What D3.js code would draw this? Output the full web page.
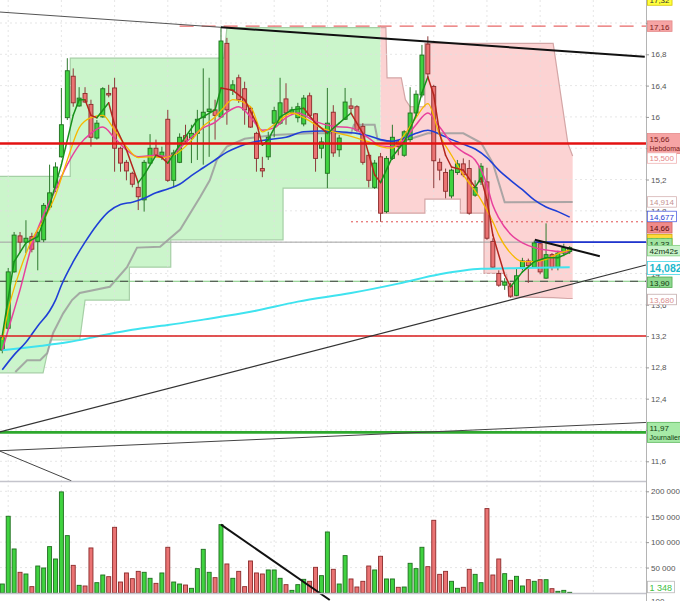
<!DOCTYPE html>
<html>
<head>
<meta charset="utf-8">
<script src="https://cdn.jsdelivr.net/npm/d3@7"></script>
<style>
  html, body { margin: 0; padding: 0; background: #fff; overflow: hidden; }
  svg { display: block; font-family: "Liberation Sans", Arial, sans-serif; }
</style>
</head>
<body>
<div id="chart"></div>
<script>
// ---- candles (one per session)
const opens = [13.02,13.30,14.02,14.48,14.40,14.47,14.41,14.43,14.85,15.10,
  15.49,15.99,16.52,16.14,16.30,16.16,15.73,16.00,16.30,16.37,
  15.60,15.42,15.28,15.10,14.94,15.41,15.60,15.49,15.97,15.19,
  15.42,15.76,15.73,15.79,15.99,16.07,16.09,16.00,16.94,16.34,
  16.50,16.36,16.11,15.79,15.34,15.49,15.92,15.92,16.23,16.06,
  15.99,15.91,16.27,16.04,15.60,15.28,16.06,15.58,15.97,16.14,
  16.13,15.88,15.51,15.10,15.49,14.79,15.47,15.68,15.51,15.71,
  16.05,16.28,16.93,16.39,15.42,15.29,14.99,15.29,15.40,15.34,
  15.00,15.17,15.17,14.41,14.00,13.85,13.84,13.72,14.08,14.16,
  14.08,14.38,13.94,14.24,14.08,14.26,14.28];
const highs = [13.20,14.07,14.53,14.53,14.68,14.52,14.55,14.90,15.39,15.42,
  16.37,16.75,16.62,16.38,16.38,16.22,15.96,16.38,16.41,16.50,
  15.62,15.45,15.30,15.16,15.45,15.78,15.71,15.62,16.09,15.58,
  15.79,15.90,15.90,16.09,16.62,16.50,16.22,17.15,17.01,16.47,
  16.54,16.45,16.14,15.81,15.49,15.81,16.13,16.50,16.43,16.13,
  16.18,16.28,16.31,16.05,15.74,16.37,16.15,15.77,16.37,16.24,
  16.15,15.92,15.55,15.45,15.54,15.50,15.90,15.71,15.83,16.38,
  16.34,16.92,17.03,16.41,15.47,15.34,15.34,15.45,15.47,15.45,
  15.19,15.41,15.35,14.45,14.04,13.94,13.88,14.07,14.20,14.19,
  14.42,14.39,14.64,14.26,14.29,14.38,14.35];
const lows = [12.98,13.28,14.01,14.26,14.26,14.27,14.04,14.40,14.81,15.04,
  15.48,15.96,16.13,16.13,16.18,15.62,15.71,15.99,16.25,15.30,
  15.30,15.19,15.10,14.81,14.79,15.39,15.49,15.45,15.17,15.10,
  15.41,15.68,15.41,15.45,15.39,15.49,15.71,15.99,15.90,16.28,
  16.18,15.90,15.86,15.30,15.23,15.45,15.74,15.90,15.90,16.04,
  15.93,15.88,16.00,15.30,15.47,15.09,15.49,15.49,15.96,16.06,
  15.81,15.39,15.10,15.08,14.66,14.77,15.45,15.51,15.49,15.68,
  16.02,16.25,16.50,15.09,15.19,14.96,14.96,15.26,15.23,14.75,
  14.98,15.13,14.43,14.06,13.83,13.79,13.69,13.71,14.04,13.88,
  14.07,13.99,13.93,14.04,14.04,14.22,14.25];
const closes = [13.18,14.02,14.49,14.40,14.45,14.31,14.52,14.87,15.03,15.36,
  15.90,16.59,16.18,16.24,16.19,15.74,15.92,16.36,16.28,15.60,
  15.41,15.31,15.14,14.98,15.42,15.60,15.51,15.55,15.19,15.54,
  15.74,15.69,15.79,15.97,16.06,16.10,16.02,16.97,16.09,16.41,
  16.22,16.09,15.87,15.47,15.31,15.74,16.08,16.18,16.05,16.09,
  16.13,16.24,16.02,15.47,15.68,15.92,15.54,15.73,16.19,16.11,
  15.83,15.42,15.19,15.41,14.77,15.47,15.74,15.62,15.81,16.05,
  16.29,16.79,16.55,15.44,15.32,15.05,15.32,15.40,15.26,14.77,
  15.10,15.37,14.45,14.08,13.85,13.89,13.71,13.97,14.16,14.10,
  14.39,14.02,14.24,14.08,14.26,14.33,14.33];
const volumes = [17700,150900,86600,40700,37400,12500,53100,49200,91200,66900,
  198800,112800,54400,15100,13800,88600,20300,35400,32100,129200,
  21600,39400,28200,42600,40700,28900,19000,39400,89900,21600,
  17700,15700,9200,47900,85900,40700,30200,134500,57100,28900,
  42600,12500,63000,39400,37400,45300,45300,28900,16400,5200,
  16400,26900,23000,50500,34100,120000,46600,17700,73500,27600,
  11800,23000,53100,45300,72200,27600,27600,11200,11800,58400,
  47900,89900,51800,143000,36700,42600,23000,9200,11200,46600,
  36700,20300,166000,35400,66900,38000,24900,32800,13800,26200,
  23000,26200,26200,8500,3300,5200,1348];

// ---- indicator lines, [session index, price] read at sample points
const maShort = [[0,13.21],[2,14.15],[4,14.39],[6,14.47],[8,14.87],[10,15.39],[12,16.02],[13,16.22],[14,16.22],[15,16.02],
  [16,15.99],[18,16.18],[19,15.90],[21,15.58],[23,15.16],[24,15.26],[26,15.51],[27,15.48],[28,15.41],[30,15.64],
  [33,15.96],[36,16.09],[37,16.37],[39,16.34],[41,16.22],[43,15.92],[44,15.64],[45,15.71],[47,16.00],[49,16.09],
  [51,16.11],[53,15.92],[55,15.79],[57,15.92],[59,16.05],[61,15.79],[63,15.26],[64,15.16],[66,15.49],[68,15.68],
  [70,16.02],[71,16.31],[72,16.51],[73,16.28],[74,15.79],[75,15.51],[76,15.36],[78,15.32],[80,15.10],[81,15.22],
  [82,14.94],[83,14.49],[85,13.98],[86,13.83],[88,14.02],[90,14.15],[92,14.20],[94,14.20],[96,14.27]];
const maYellow = [[0,13.15],[1,13.53],[3,14.04],[5,14.43],[7,14.68],[9,15.00],[11,15.45],[13,15.86],[15,15.99],[17,16.02],
  [19,15.83],[21,15.62],[23,15.48],[25,15.49],[27,15.48],[29,15.51],[32,15.70],[34,15.88],[36,16.00],[37,16.08],
  [39,16.22],[42,16.13],[44,15.81],[46,15.90],[49,16.05],[51,15.99],[54,15.86],[57,15.79],[60,15.73],[62,15.68],
  [64,15.62],[66,15.60],[68,15.77],[70,15.99],[72,16.17],[74,15.77],[76,15.51],[78,15.26],[81,14.94],[83,14.66],
  [84,14.49],[86,14.26],[88,14.15],[90,14.15],[92,14.18],[94,14.25],[96,14.30]];
const maMagenta = [[0,13.02],[1,13.28],[3,13.79],[5,14.36],[7,14.75],[9,15.07],[11,15.39],[13,15.64],[15,15.79],[17,15.87],
  [19,15.73],[21,15.58],[23,15.49],[26,15.51],[28,15.49],[31,15.67],[34,15.86],[36,15.93],[38,16.06],[40,16.13],
  [42,16.00],[44,15.83],[46,15.86],[48,15.99],[50,16.05],[53,15.94],[56,15.88],[59,15.86],[62,15.73],[64,15.63],
  [66,15.62],[68,15.71],[70,15.90],[72,16.05],[74,15.87],[76,15.67],[78,15.55],[80,15.45],[82,15.13],[83,14.87],
  [84,14.71],[86,14.50],[88,14.39],[90,14.33],[93,14.29],[96,14.27]];
const maBlue = [[0,12.77],[2,12.96],[4,13.12],[6,13.33],[8,13.52],[9,13.66],[10,13.85],[12,14.15],[14,14.40],[16,14.62],
  [18,14.79],[20,14.88],[22,14.91],[24,14.96],[26,15.03],[28,15.08],[30,15.14],[32,15.25],[34,15.35],[36,15.45],
  [38,15.55],[40,15.62],[42,15.67],[45,15.71],[48,15.74],[51,15.81],[54,15.82],[57,15.81],[60,15.79],[62,15.76],
  [64,15.71],[66,15.69],[68,15.73],[70,15.79],[72,15.83],[74,15.78],[76,15.71],[78,15.65],[80,15.59],[82,15.48],
  [84,15.32],[86,15.19],[88,15.07],[90,14.94],[92,14.85],[94,14.79],[96,14.72]];
const maCyan = [[0,13.02],[6,13.07],[11,13.12],[17,13.21],[22,13.28],[28,13.34],[34,13.41],[42,13.51],[50,13.64],
  [59,13.75],[67,13.87],[74,13.99],[81,14.06],[88,14.07],[96,14.08]];
const trailLine = [[2.2,12.74],[4.2,12.89],[6.4,12.89],[7.6,12.98],[8.6,13.24],[10.3,13.49],[11.8,13.66],[13.1,13.75],
  [18.2,13.83],[21.1,14.08],[22.8,14.33],[26.7,14.34],[30.1,14.56],[33.5,14.98],[35.1,15.19],[36.3,15.45],[38,15.62],
  [41,15.72],[46,15.77],[52,15.79],[59,15.79],[59.5,15.90],[63,15.90],[63.5,15.71],[67,15.67],[72,15.79],[78,15.79],
  [81,15.67],[83,15.41],[85,14.91],[96.5,14.914]];

// ---- shaded trend zones, [session index, upper price, lower price]
const upZone = [[-0.5,15.24,12.73],[6.9,15.24,12.73],[8.1,15.24,13.15],[11.5,15.24,13.15],[11.5,16.75,13.15],
  [13.1,16.75,13.15],[14.0,16.75,13.66],[21.5,16.75,13.66],[21.5,16.75,14.08],[28.5,16.75,14.08],[28.5,16.75,14.43],
  [37.5,16.75,14.43],[38.0,17.14,14.43],[47.5,17.14,14.43],[47.5,17.14,15.09],[64,17.14,15.09]];
const downZone = [[64,17.14,14.77],[64.9,17.14,14.77],[65.1,16.50,14.77],[67.5,16.50,14.77],[68.2,16.22,14.77],
  [69,16.13,14.77],[71.5,16.13,14.77],[71.5,16.94,14.95],[77.5,16.94,14.95],[77.5,16.94,14.77],[81.5,16.94,14.77],
  [81.5,16.94,14.00],[85.3,16.94,14.00],[85.7,16.94,13.70],[93.2,16.94,13.69],[95.7,15.66,13.68],[96.5,15.50,13.68]];

// ---- horizontal levels
const weeklyLevel = 15.66;
const dailyLevel = 11.97;
const supportLevel = 13.20;
const highLevel = 17.16;      // dashed, from session 30
const stopLevel = 14.66;      // dotted, from session 59
const pivotLevel = 14.40;     // grey, blue from session 90
const midLevel = 13.90;

// ---- drawn trend lines, [session index, price]
const topTrend = [[-0.4,17.34],[37,17.145],[108.7,16.77]];
const lowTrend = [[-0.4,11.975],[108.9,14.108]];
const flatTrend = [[-0.4,11.735],[108.9,12.096]];
const dropTrend = [[-0.4,11.73],[11.7,11.35]];
const shortTrend = [[90.1,14.43],[101.1,14.22]];
const volTrend = [[37,134500],[55.4,-13800]];

// ---- axis ticks and side labels
const priceTicks = d3.range(29, 44).map(k => +(k * 0.4).toFixed(1));
const volumeTicks = [50000, 100000, 150000, 200000];
const gridSessions = d3.range(1, 101, 9);
const labelValues = [17.32, 17.16, 15.66, 15.5, 14.914, 14.677, 14.66, 14.34, 14.33, 14.082, 13.9, 13.68, 11.97];
const labelDecimals = [2, 2, 2, 3, 3, 3, 2, 2, 2, 3, 2, 3, 2];
const labelNotes = ["", "", "Hebdomadaire", "", "", "", "", "", "", "", "", "", "Journalier"];
const countdownText = "42m42s";

// ---------------------------------------------------------------
const W = 680, H = 601, axisX = 646;
const svg = d3.select("#chart").append("svg").attr("width", W).attr("height", H);

const x = d3.scaleLinear().domain([0, 96]).range([2.3, 569.7]);
const y = d3.scaleLinear().domain([11.6, 16.8]).range([461.3, 54.3]);
const yVol = d3.scaleLinear().domain([0, 200000]).range([593, 491.3]);

const defs = svg.append("defs");
defs.append("clipPath").attr("id", "clipPrice").append("rect")
    .attr("x", 0).attr("y", 0).attr("width", axisX).attr("height", 481);
defs.append("clipPath").attr("id", "clipVol").append("rect")
    .attr("x", 0).attr("y", 481).attr("width", axisX).attr("height", 120);

// layer order: zones, grid, price marks, volume marks
const zoneG = svg.append("g").attr("clip-path", "url(#clipPrice)");
const gridG = svg.append("g").attr("stroke", "#e0e0e0").attr("stroke-dasharray", "2,3").attr("stroke-width", 0.8);
const priceG = svg.append("g").attr("clip-path", "url(#clipPrice)");
const volG = svg.append("g").attr("clip-path", "url(#clipVol)");

// zones
const zoneArea = d3.area().x(d => x(d[0])).y0(d => y(d[2])).y1(d => y(d[1]));
const zoneTop = d3.line().x(d => x(d[0])).y(d => y(d[1]));
const zoneBot = d3.line().x(d => x(d[0])).y(d => y(d[2]));
[[upZone, "#cbf5cb", "#a6cfa6"], [downZone, "#fcd3d3", "#d4a6a6"]].forEach(([z, fill, edge]) => {
  zoneG.append("path").datum(z).attr("d", zoneArea).attr("fill", fill);
  zoneG.append("path").datum(z).attr("d", zoneTop).attr("fill", "none").attr("stroke", edge).attr("stroke-width", 1.2);
  zoneG.append("path").datum(z).attr("d", zoneBot).attr("fill", "none").attr("stroke", edge).attr("stroke-width", 1.2);
});

// grid
gridSessions.forEach(s => gridG.append("line").attr("x1", x(s)).attr("x2", x(s)).attr("y1", 0).attr("y2", 593));
priceTicks.forEach(p => gridG.append("line").attr("x1", 0).attr("x2", axisX).attr("y1", y(p)).attr("y2", y(p)));
volumeTicks.forEach(v => gridG.append("line").attr("x1", 0).attr("x2", axisX).attr("y1", yVol(v)).attr("y2", yVol(v)));

// trailing grey line
const pLine = d3.line().x(d => x(d[0])).y(d => y(d[1]));
priceG.append("path").datum(trailLine).attr("d", pLine).attr("fill", "none")
    .attr("stroke", "#9c9c9c").attr("stroke-opacity", 0.85).attr("stroke-width", 2);

// horizontal levels
function hLine(g, p, from, stroke, width, dash) {
  g.append("line").attr("x1", from === null ? 0 : x(from)).attr("x2", axisX)
    .attr("y1", y(p)).attr("y2", y(p))
    .attr("stroke", stroke).attr("stroke-width", width)
    .attr("stroke-dasharray", dash || null);
}
hLine(priceG, pivotLevel, null, "#a0a0a0", 1);
hLine(priceG, pivotLevel, 90, "#1f35d0", 1.6);
hLine(priceG, midLevel, null, "#7cc77c", 1);
hLine(priceG, midLevel, null, "#444", 1, "8,7");
hLine(priceG, highLevel, 30, "#e86868", 1.3, "14,8");
hLine(priceG, stopLevel, 59, "#e05050", 1, "2,3");

// volume bars
const upFill = "#3fd23f", upStroke = "#1f6e1f", dnFill = "#ea7373", dnStroke = "#8c2b2b";
volG.selectAll("rect.vol").data(volumes).enter().append("rect")
    .attr("x", (d, i) => x(i) - 2).attr("width", 4)
    .attr("y", d => yVol(d)).attr("height", d => yVol(0) - yVol(d))
    .attr("fill", (d, i) => closes[i] >= opens[i] ? upFill : dnFill)
    .attr("stroke", (d, i) => closes[i] >= opens[i] ? upStroke : dnStroke)
    .attr("stroke-width", 0.9);

// candles
const candleIdx = d3.range(opens.length);
priceG.selectAll("line.wick").data(candleIdx).enter().append("line")
    .attr("x1", i => x(i)).attr("x2", i => x(i))
    .attr("y1", i => y(highs[i])).attr("y2", i => y(lows[i]))
    .attr("stroke", i => closes[i] >= opens[i] ? "#2f7a2f" : "#8c3a3a").attr("stroke-width", 1);
priceG.selectAll("rect.body").data(candleIdx).enter().append("rect")
    .attr("x", i => x(i) - 2).attr("width", 4)
    .attr("y", i => y(Math.max(opens[i], closes[i])))
    .attr("height", i => Math.max(1, Math.abs(y(opens[i]) - y(closes[i]))))
    .attr("fill", i => closes[i] >= opens[i] ? upFill : dnFill)
    .attr("stroke", i => closes[i] >= opens[i] ? upStroke : dnStroke)
    .attr("stroke-width", 0.9);

// moving averages
const smooth = d3.line().x(d => x(d[0])).y(d => y(d[1])).curve(d3.curveMonotoneX);
[[maCyan, "#3fe3ef", 2], [maBlue, "#1f3fd6", 1.6], [maMagenta, "#e8409c", 1.5], [maYellow, "#f7b800", 1.3]]
  .forEach(([data, color, w]) => {
    priceG.append("path").datum(data).attr("d", smooth).attr("fill", "none")
        .attr("stroke", color).attr("stroke-width", w);
  });
d3.pairs(maShort).forEach(([a, b]) => {
  priceG.append("line").attr("x1", x(a[0])).attr("y1", y(a[1])).attr("x2", x(b[0])).attr("y2", y(b[1]))
      .attr("stroke", b[1] >= a[1] ? "#17911b" : "#b3261e").attr("stroke-width", 1.5)
      .attr("stroke-linecap", "round");
});

// strong levels on top
hLine(priceG, weeklyLevel, null, "#e31212", 2.6);
hLine(priceG, supportLevel, null, "#d81c1c", 1.5);
hLine(priceG, dailyLevel, null, "#2ea82e", 2.6);

// drawn trend lines
priceG.append("path").datum(topTrend.slice(0, 2)).attr("d", pLine).attr("stroke", "#555").attr("stroke-width", 1).attr("fill", "none");
priceG.append("path").datum(topTrend.slice(1)).attr("d", pLine).attr("stroke", "#111").attr("stroke-width", 2).attr("fill", "none");
priceG.append("path").datum(lowTrend).attr("d", pLine).attr("stroke", "#333").attr("stroke-width", 1.2).attr("fill", "none");
priceG.append("path").datum(flatTrend).attr("d", pLine).attr("stroke", "#444").attr("stroke-width", 1).attr("fill", "none");
priceG.append("path").datum(dropTrend).attr("d", pLine).attr("stroke", "#444").attr("stroke-width", 1).attr("fill", "none");
priceG.append("path").datum(shortTrend).attr("d", pLine).attr("stroke", "#111").attr("stroke-width", 2).attr("fill", "none");
volG.append("path").datum(volTrend).attr("d", d3.line().x(d => x(d[0])).y(d => yVol(d[1])))
    .attr("stroke", "#111").attr("stroke-width", 2).attr("fill", "none");

// panel frames
svg.append("line").attr("x1", 0).attr("x2", axisX).attr("y1", 481.5).attr("y2", 481.5).attr("stroke", "#c4c4cc").attr("stroke-width", 1.5);
svg.append("line").attr("x1", 0).attr("x2", axisX).attr("y1", 593.5).attr("y2", 593.5).attr("stroke", "#c4c4cc").attr("stroke-width", 1.5);
svg.append("line").attr("x1", axisX + 0.5).attr("x2", axisX + 0.5).attr("y1", 0).attr("y2", H).attr("stroke", "#b4b4b4").attr("stroke-width", 1);

// axes
const commaFmt = d => d3.format(".1f")(d).replace(".0", "").replace(".", ",");
const priceAxis = svg.append("g").attr("transform", `translate(${axisX},0)`)
    .call(d3.axisRight(y).tickValues(priceTicks).tickFormat(commaFmt).tickSize(3).tickPadding(2));
const volAxis = svg.append("g").attr("transform", `translate(${axisX},0)`)
    .call(d3.axisRight(yVol).tickValues(volumeTicks).tickFormat(d => d3.format(",")(d).replace(/,/g, " ")).tickSize(3).tickPadding(2));
[priceAxis, volAxis].forEach(a => {
  a.select(".domain").remove();
  a.selectAll("line").attr("stroke", "#999");
  a.selectAll("text").attr("fill", "#555").style("font-size", "8px").style("font-family", "Liberation Sans, Arial, sans-serif");
});
svg.append("text").attr("x", axisX + 5).attr("y", 604).attr("fill", "#555").style("font-size", "8px").text("100");

// side labels
const labelStyle = [
  {fill: "#ffff3c", stroke: "#d4c400", color: "#333"},
  {fill: "#f6a4a4", stroke: "#e48a8a", color: "#7a1a1a"},
  {fill: "#f6a4a4", stroke: "#e48a8a", color: "#7a1a1a"},
  {fill: "#fff", stroke: "#f0b4b4", color: "#e68888"},
  {fill: "#fff", stroke: "#d6b4b4", color: "#c49292"},
  {fill: "#fff", stroke: "#5464e2", color: "#2a3ad0"},
  {fill: "#f08a8a", stroke: "#d46464", color: "#5a0a0a"},
  {fill: "#ffd93c", stroke: "#d4aa00", color: "#333"},
  {fill: "#9fe39f", stroke: "#5cbc5c", color: "#143314"},
  {fill: "#fff", stroke: "#44d6e6", color: "#1cb8cc", size: 10.5, weight: "bold"},
  {fill: "#8ed88e", stroke: "#52aa52", color: "#103810"},
  {fill: "#fff", stroke: "#c4acac", color: "#d88e8e"},
  {fill: "#a7eaa7", stroke: "#5cb85c", color: "#104010"}
];
const labelShift = [0, 0, 0, 2, 0, -4, 6, -7, -4, 1, 1, 1, 0];

function sideLabel(cy, lines, st) {
  const g = svg.append("g");
  const size = st.size || 8;
  const lineH = size + 1.5;
  const h = lineH * lines.length + 1;
  const top = cy - h / 2;
  const rect = g.append("rect").attr("x", axisX + 1.5).attr("y", top).attr("height", h)
      .attr("fill", st.fill).attr("stroke", st.stroke).attr("stroke-width", 0.8);
  let wMax = 0;
  lines.forEach((t, k) => {
    const fs = k === 0 ? size : 7;
    const tx = g.append("text").attr("x", axisX + 3.5).attr("y", top + 1 + lineH * k + lineH / 2)
        .attr("dy", "0.36em").attr("fill", st.color)
        .style("font-size", fs + "px").style("font-weight", k === 0 ? (st.weight || "normal") : "normal")
        .text(t);
    wMax = Math.max(wMax, tx.node().getComputedTextLength());
  });
  rect.attr("width", wMax + 4.5);
}

labelValues.forEach((v, k) => {
  const txt = v.toFixed(labelDecimals[k]).replace(".", ",");
  const lines = labelNotes[k] ? [txt, labelNotes[k]] : [txt];
  const cy = k === 0 ? 0 : y(v) + labelShift[k];
  sideLabel(cy, lines, labelStyle[k]);
});
sideLabel(y(closes[closes.length - 1]) + 3, [countdownText], {fill: "#c9f2c9", stroke: "#7fcf7f", color: "#123312"});
sideLabel(Math.min(yVol(volumes[volumes.length - 1]), 587), [d3.format(",")(volumes[volumes.length - 1]).replace(",", " ")],
    {fill: "#fff", stroke: "#b8b8b8", color: "#3fbf3f", size: 9});
</script>
</body>
</html>
